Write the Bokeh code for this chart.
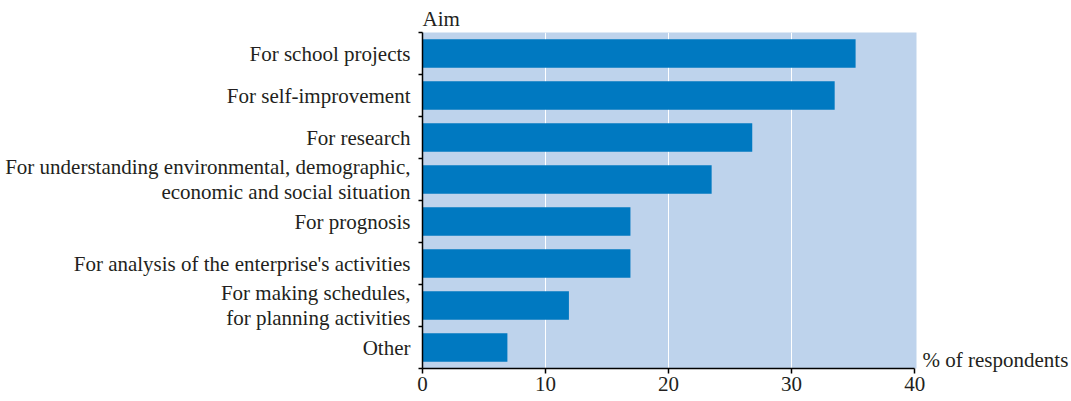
from bokeh.plotting import figure
from bokeh.models import Range1d, FixedTicker, LinearAxis
from bokeh.embed import file_html
from bokeh.resources import INLINE

categories = [
    "For school projects",
    "For self-improvement",
    "For research",
    "For understanding environmental, demographic,\neconomic and social situation",
    "For prognosis",
    "For analysis of the enterprise's activities",
    "For making schedules,\nfor planning activities",
    "Other",
]
values = [35.2, 33.5, 26.8, 23.5, 16.9, 16.9, 11.9, 6.9]
x_ticks = [0, 10, 20, 30, 40]
y_title = "Aim"
x_title = "% of respondents"

FONT = "Liberation Serif"
FS = "21px"
TXT = "#231f20"

n = len(categories)
ypos = [n - i - 0.5 for i in range(n)]

p = figure(width=1071, height=401, output_backend="svg", toolbar_location=None,
           x_range=Range1d(0, 40.15), y_range=Range1d(0, n),
           min_border_left=422, min_border_right=154,
           min_border_top=32, min_border_bottom=33)
p.background_fill_color = "#bed3ec"
p.border_fill_color = "white"
p.outline_line_color = None

p.hbar(y=ypos, left=0, right=values, height=0.68, color="#0079c1", line_color=None)

# y axis
ya = p.yaxis[0]
ya.ticker = FixedTicker(ticks=ypos, minor_ticks=list(range(n + 1)))
ya.major_label_overrides = {y: c for y, c in zip(ypos, categories)}
ya.major_tick_out = 0
ya.major_tick_in = 0
ya.minor_tick_out = 4
ya.minor_tick_in = 0
ya.minor_tick_line_color = "black"
ya.minor_tick_line_width = 1.5
ya.axis_line_color = "black"
ya.axis_line_width = 1.5
ya.major_label_standoff = 8
ya.major_label_text_font = FONT
ya.major_label_text_font_size = FS
ya.major_label_text_color = TXT
ya.major_label_text_line_height = 1.03

# x axis
xa = p.xaxis[0]
xa.ticker = FixedTicker(ticks=x_ticks, minor_ticks=[])
xa.bounds = (0, 40)
xa.major_tick_out = 5
xa.major_tick_in = 0
xa.major_tick_line_color = "black"
xa.major_tick_line_width = 1.5
xa.axis_line_color = "black"
xa.axis_line_width = 1.5
xa.major_label_standoff = 3
xa.major_label_text_font = FONT
xa.major_label_text_font_size = FS
xa.major_label_text_color = TXT

# x axis title as a right-side label next to the axis end
ra = LinearAxis(ticker=FixedTicker(ticks=[0.2], minor_ticks=[]),
                major_label_overrides={0.2: x_title})
ra.axis_line_color = None
ra.major_tick_line_color = None
ra.minor_tick_line_color = None
ra.major_tick_out = 0
ra.major_tick_in = 0
ra.major_label_standoff = 6
ra.major_label_text_font = FONT
ra.major_label_text_font_size = FS
ra.major_label_text_color = TXT
p.add_layout(ra, "right")

p.ygrid.visible = False
p.xgrid.ticker = FixedTicker(ticks=[10, 20, 30], minor_ticks=[])
p.xgrid.grid_line_color = "white"
p.xgrid.grid_line_width = 1

p.title.text = y_title
p.title.align = "left"
p.title.text_font = FONT
p.title.text_font_size = FS
p.title.text_font_style = "normal"
p.title.text_color = TXT
p.title.standoff = 4

open("out.html", "w").write(file_html(p, INLINE))
